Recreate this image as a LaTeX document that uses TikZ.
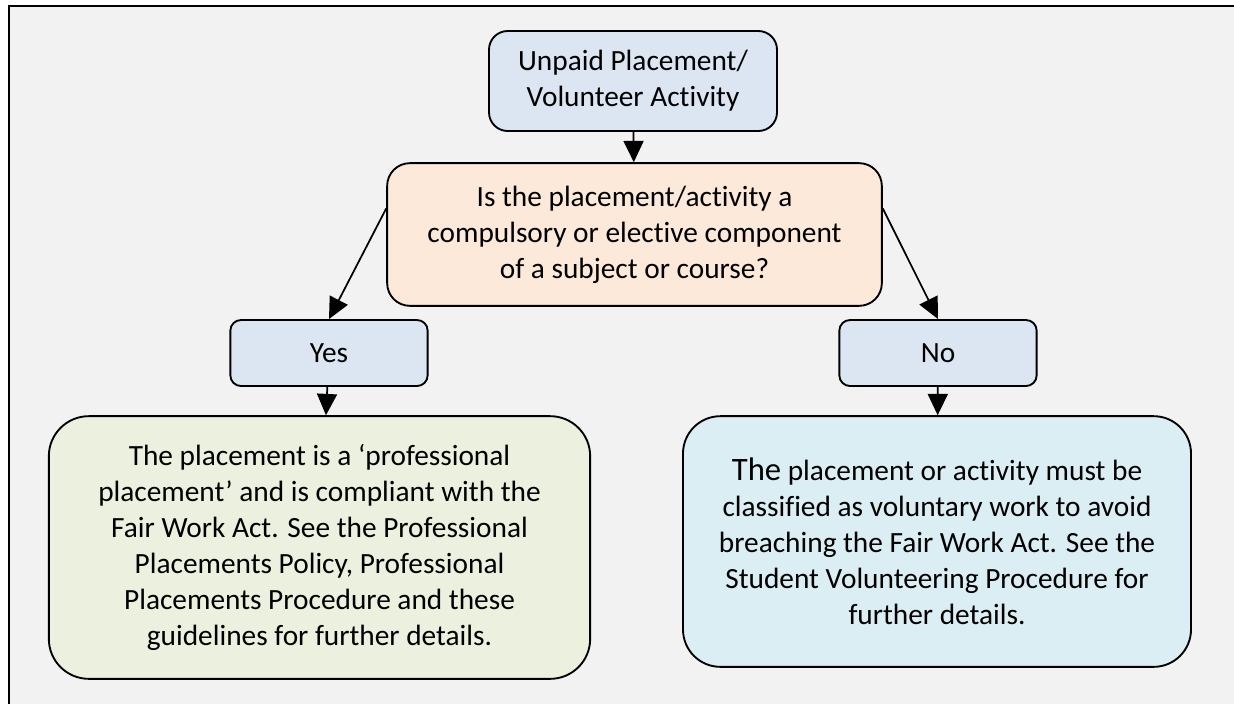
\documentclass[tikz,border=0pt]{standalone}
\usepackage{fontspec}
\setmainfont{Carlito}[Ligatures=CommonOff]
\usetikzlibrary{arrows.meta}
\definecolor{boxblue}{HTML}{DCE6F2}
\definecolor{boxorange}{HTML}{FDE9D9}
\definecolor{boxgreen}{HTML}{EBF1DE}
\definecolor{boxaqua}{HTML}{DAEEF3}
\definecolor{pagegray}{HTML}{F2F2F2}
\begin{document}
\begin{tikzpicture}[x=0.75pt,y=-0.75pt,
    box/.style={draw=black,line width=1.4pt,align=center,inner sep=0pt,
                font=\fontsize{22}{27}\selectfont},
    link/.style={line width=1.3pt,-{Triangle[length=16pt,width=15pt]}}]
  \useasboundingbox (0,0) rectangle (1234,704);
  \fill[white] (0,0) rectangle (1234,704);
  \fill[pagegray] (9,6) rectangle (1234,704);
  \draw[line width=1.8pt] (9,704) -- (9,6) -- (1234,6);
  \node[box,fill=boxblue,rounded corners=14pt,minimum width=216pt,minimum height=75pt]
        (top)  at (633,81)    {Unpaid Placement/\\Volunteer Activity};
  \node[box,fill=boxorange,rounded corners=17pt,minimum width=371pt,minimum height=107pt]
        (q)    at (634.5,234.5) {Is the placement/activity a\\compulsory or elective component\\of a subject or course?};
  \node[box,fill=boxblue,rounded corners=8pt,minimum width=148pt,minimum height=49.5pt]
        (yes)  at (329,353)   {Yes};
  \node[box,fill=boxblue,rounded corners=8pt,minimum width=148pt,minimum height=49.5pt]
        (no)   at (938,353)   {No};
  \node[box,fill=boxgreen,rounded corners=30pt,minimum width=406pt,minimum height=197pt]
        (pro)  at (319.5,547.5) {The placement is a ‘professional\\placement’ and is compliant with the\\Fair Work Act. See the Professional\\Placements Policy, Professional\\Placements Procedure and these\\guidelines for further details.};
  \node[box,fill=boxaqua,rounded corners=28pt,minimum width=381pt,minimum height=188pt]
        (vol)  at (937,541.5) {{\fontsize{24.5}{27}\selectfont The} placement or activity must be\\classified as voluntary work to avoid\\breaching the Fair Work Act. See the\\Student Volunteering Procedure for\\further details.};
  \draw[link] (top) -- (q);
  \draw[link] (q.174) -- (yes.north);
  \draw[link] (q.6) -- (no.north);
  \draw[link] (yes) -- (pro);
  \draw[link] (no) -- (vol);
\end{tikzpicture}
\end{document}
